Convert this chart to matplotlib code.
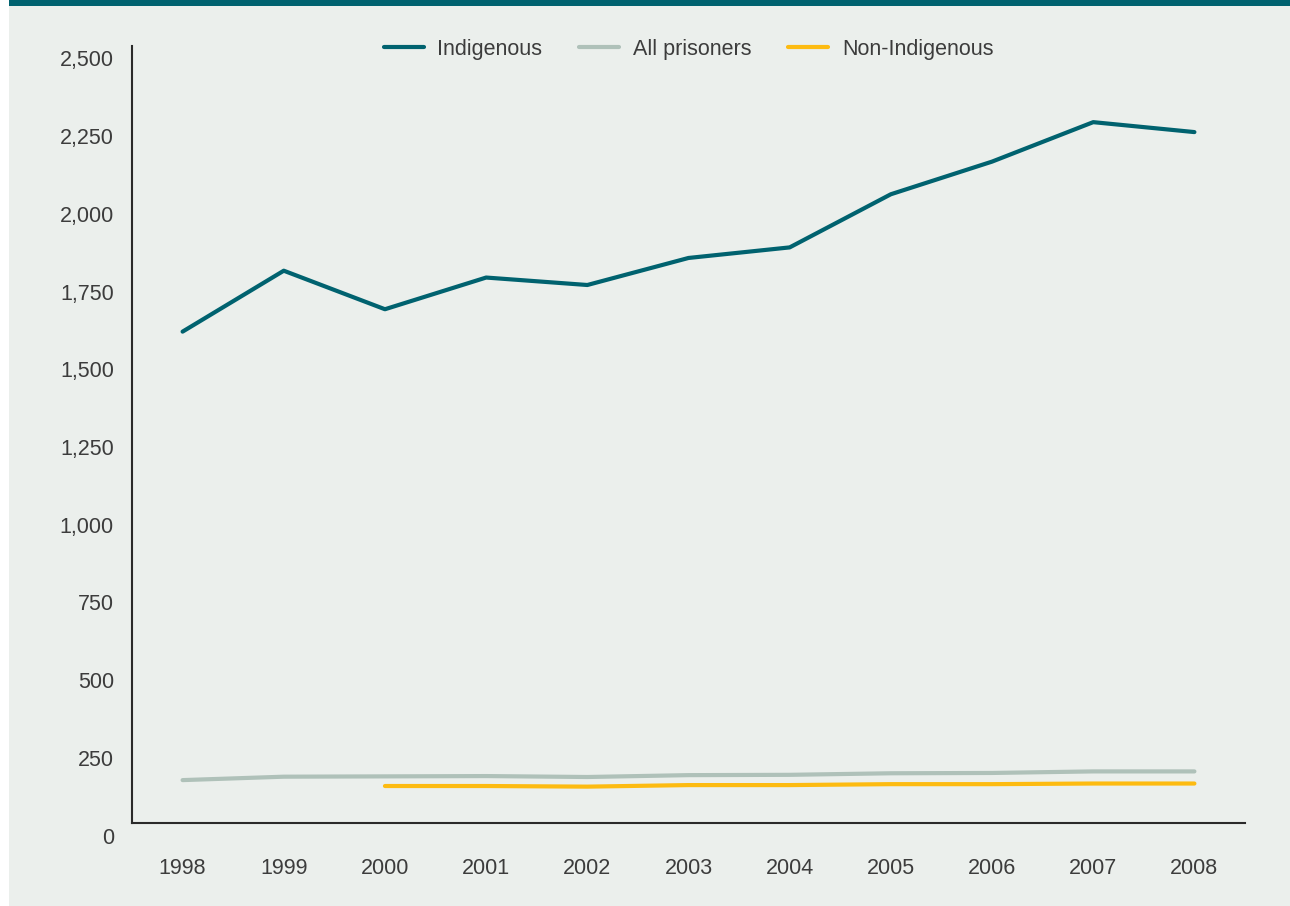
import matplotlib.pyplot as plt
import matplotlib.transforms as mtransforms
from matplotlib.patches import Rectangle

plt.rcParams['font.family'] = ['Liberation Sans', 'DejaVu Sans']

# rate per 100,000 adults
years = [1998, 1999, 2000, 2001, 2002, 2003, 2004, 2005, 2006, 2007, 2008]
indigenous = [1581, 1777, 1653, 1755, 1731, 1818, 1852, 2023, 2128, 2255, 2223]
all_prisoners = [138, 149, 150, 151, 148, 154, 155, 160, 161, 166, 166]
non_years = [2000, 2001, 2002, 2003, 2004, 2005, 2006, 2007, 2008]
non_indigenous = [119, 119, 117, 122, 122, 125, 125, 127, 127]
yticks = [0, 250, 500, 750, 1000, 1250, 1500, 1750, 2000, 2250, 2500]

bg = '#EBEFEC'
teal = '#00626F'
grey = '#AFC1B9'
yellow = '#FDBB11'
txt = '#3c3c3c'

fig = plt.figure(figsize=(12.9, 9.06), dpi=100, facecolor=bg)
# white strip on the left and teal band along the top
fig.patches.append(Rectangle((0, 0), 9 / 1290, 1, transform=fig.transFigure,
                             facecolor='white', edgecolor='none', zorder=0))
fig.patches.append(Rectangle((9 / 1290, 1 - 6 / 906), 1, 6 / 906, transform=fig.transFigure,
                             facecolor=teal, edgecolor='none', zorder=0))

ax = fig.add_axes([132 / 1290, 1 - 823 / 906, (1245 - 132) / 1290, (823 - 46) / 906])
ax.set_facecolor(bg)

lw = 3.0
ax.plot(years, indigenous, color=teal, lw=lw, solid_capstyle='round', label='Indigenous')
ax.plot(years, all_prisoners, color=grey, lw=lw, solid_capstyle='round', label='All prisoners')
ax.plot(non_years, non_indigenous, color=yellow, lw=lw, solid_capstyle='round', label='Non-Indigenous')

ax.set_xlim(1997.5, 2008.5)
ax.set_ylim(0, 2500)
ax.set_xticks(years)
ax.set_xticklabels([str(y) for y in years])
ax.set_yticks(yticks)
ax.set_yticklabels([f'{v:,}' for v in yticks])

for s in ['top', 'right']:
    ax.spines[s].set_visible(False)
for s in ['left', 'bottom']:
    ax.spines[s].set_color('#2a2a2a')
    ax.spines[s].set_linewidth(1.5)

ax.tick_params(axis='both', length=0, labelsize=15.5, labelcolor=txt)
ax.tick_params(axis='y', pad=13)
ax.tick_params(axis='x', pad=25)

# y labels sit a little below their values in the original
offset = mtransforms.ScaledTranslation(0, -12.5 / 100, fig.dpi_scale_trans)
for lab in ax.get_yticklabels():
    lab.set_transform(lab.get_transform() + offset)

leg = ax.legend(loc='center', bbox_to_anchor=(0.5, 0.996), ncol=3, frameon=False,
                fontsize=15.5, handlelength=1.85, handletextpad=0.65, columnspacing=1.7)
for t in leg.get_texts():
    t.set_color(txt)

fig.savefig('out.png', dpi=100, facecolor=bg)
